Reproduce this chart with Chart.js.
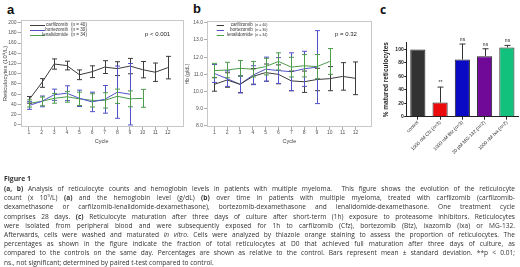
<!DOCTYPE html>
<html>
<head>
<meta charset="utf-8">
<script src="https://cdn.jsdelivr.net/npm/chart.js@4.4.0/dist/chart.umd.min.js"></script>
<style>
  body { margin: 0; width: 520px; height: 267px; background: #fff; position: relative; overflow: hidden; font-family: "Liberation Sans", Arial, sans-serif; }
  canvas { position: absolute; top: 0; }
  .plabel { position: absolute; font-weight: bold; color: #111; font-size: 13px; line-height: 13px; }
  #cap { position: absolute; left: 4px; top: 174px; width: 511px; font-family: "Open Sans", sans-serif; font-size: 6.6px; color: #333; }
  #cap .fig { font-weight: bold; font-size: 6.8px; height: 10px; line-height: 10px; }
  #cap .ln { height: 9.2px; line-height: 9.2px; text-align: justify; text-align-last: justify; overflow: hidden; }
  #cap .ln.last { text-align: left; text-align-last: left; }
</style>
</head>
<body>
<div class="plabel" style="left:7px;top:2.5px">a</div>
<div class="plabel" style="left:193px;top:2px">b</div>
<div class="plabel" style="left:380px;top:4px;font-family:'Open Sans',sans-serif;font-size:12px;line-height:12px">c</div>

<canvas id="chartA" width="186" height="150" style="left:0"></canvas>
<canvas id="chartB" width="195" height="150" style="left:180px"></canvas>
<canvas id="chartC" width="144" height="175" style="left:376px"></canvas>

<div id="cap">
  <div class="fig">Figure 1</div>
  <div class="ln"><b>(a, b)</b> Analysis of reticulocyte counts and hemoglobin levels in patients with multiple myeloma.&nbsp; This figure shows the evolution of the reticulocyte</div>
  <div class="ln">count (x 10<sup style="font-size:4px;line-height:0">9</sup>/L) <b>(a)</b> and the hemoglobin level (g/dL) <b>(b)</b> over time in patients with multiple myeloma, treated with carfilzomib (carfilzomib-</div>
  <div class="ln">dexamethasone or carfilzomib-lenalidomide-dexamethasone), bortezomib-dexamethasone and lenalidomide-dexamethasone. One treatment cycle</div>
  <div class="ln">comprises 28 days. <b>(c)</b> Reticulocyte maturation after three days of culture after short-term (1h) exposure to proteasome inhibitors. Reticulocytes</div>
  <div class="ln">were isolated from peripheral blood and were subsequently exposed for 1h to carfilzomib (Cfz), bortezomib (Btz), ixazomib (Ixa) or MG-132.</div>
  <div class="ln">Afterwards, cells were washed and maturated <i>in vitro</i>. Cells were analyzed by thiazole orange staining to assess the proportion of reticulocytes. The</div>
  <div class="ln">percentages as shown in the figure indicate the fraction of total reticulocytes at D0 that achieved full maturation after three days of culture, as</div>
  <div class="ln">compared to the controls on the same day. Percentages are shown as relative to the control. Bars represent mean ± standard deviation. **p &lt; 0.01;</div>
  <div class="ln last">ns., not significant; determined by paired t-test compared to control.</div>
</div>

<script>
// panel a: reticulocytes (10^9/L) per cycle, mean and SD
const cycles = [1, 2, 3, 4, 5, 6, 7, 8, 9, 10, 11, 12];
const carfRetMean = [49, 82, 119, 116, 98, 104, 113, 110, 115, 108, 103, 112];
const carfRetSd   = [6.5, 8.5, 10, 8.5, 9.5, 11.5, 12.5, 13.5, 15, 16, 18, 22];
const bortRetMean = [38, 46, 59, 62, 52, 45, 50, 64, 60];
const bortRetSd   = [7.5, 10.5, 11, 14.5, 16, 19, 27, 51, 60];
const lenaRetMean = [42, 46, 52, 55, 51, 48, 48, 56, 51, 52];
const lenaRetSd   = [7, 8.5, 9.5, 10.5, 13, 13, 15, 14, 15.5, 17.5];
const retTicks = [0, 20, 40, 60, 80, 100, 120, 140, 160, 180, 200];

// panel b: hemoglobin (g/dL)
const carfHbMean = [10.42, 10.67, 10.42, 10.88, 11.1, 11.0, 10.62, 10.57, 10.7, 10.75, 10.88, 10.77];
const carfHbSd   = [0.4, 0.42, 0.48, 0.45, 0.5, 0.55, 0.57, 0.62, 0.65, 0.7, 0.8, 0.95];
const bortHbMean = [11.05, 10.75, 10.42, 10.95, 11.3, 11.22, 11.15, 11.32, 11.42];
const bortHbSd   = [0.52, 0.45, 0.5, 0.55, 0.7, 0.75, 1.1, 1.02, 2.12];
const lenaHbMean = [11.22, 11.25, 11.35, 11.3, 11.45, 11.75, 11.42, 11.5, 11.45, 11.75];
const lenaHbSd   = [0.42, 0.45, 0.45, 0.45, 0.48, 0.5, 0.57, 0.65, 0.7, 0.75];
const hbTicks = [8.0, 8.5, 9.0, 9.5, 10.0, 10.5, 11.0, 11.5, 12.0, 12.5, 13.0, 13.5, 14.0];

const groupNames = ['carfilzomib', 'bortezomib', 'lenalidomide'];
const groupN = ['(n = 40)', '(n = 30)', '(n = 34)'];

// panel c: matured reticulocytes (% of control)
const matCategories = ['control', '1000 nM Cfz (n=3)', '1000 nM Btz (n=3)', '20 µM MG-132 (n=2)', '1000 nM Ixa (n=2)'];
const matMean = [100, 21, 85, 90, 103];
const matSd = [0, 23, 23, 11, 3];
const matSig = ['', '**', 'ns', 'ns', 'ns'];
const matTicks = [0, 20, 40, 60, 80, 100];

Chart.defaults.font.family = '"Liberation Sans", Arial, sans-serif';
Chart.defaults.color = '#444';

const COL_CARF = '#3c3c3c', COL_BORT = '#5252c8', COL_LENA = '#4c9c4c';

const toXY = (arr) => arr.map((v, i) => ({ x: cycles[i], y: v }));

// grey frame round the plot area
const framePlugin = {
  id: 'frame',
  beforeDatasetsDraw(chart, args, opts) {
    const a = chart.chartArea, ctx = chart.ctx;
    ctx.save();
    ctx.strokeStyle = opts.color || '#c4c4c4';
    ctx.lineWidth = 1;
    ctx.strokeRect(Math.round(a.left) + 0.5, Math.round(a.top) + 0.5,
                   Math.round(a.right - a.left) - 1, Math.round(a.bottom - a.top) - 1);
    ctx.restore();
  }
};

// mean +/- sd whiskers
const errorBars = {
  id: 'errorBars',
  afterDatasetsDraw(chart, args, opts) {
    const ctx = chart.ctx, ys = chart.scales.y;
    chart.data.datasets.forEach((ds, di) => {
      const meta = chart.getDatasetMeta(di);
      ctx.save();
      ctx.strokeStyle = opts.color || ds.borderColor;
      ctx.lineWidth = 1;
      meta.data.forEach((el, i) => {
        const d = ds.data[i];
        const m = typeof d === 'object' ? d.y : d;
        const s = ds.sd[i];
        if (!s) return;
        const x = Math.round(el.x) + 0.5;
        const top = ys.getPixelForValue(m + s);
        const bot = opts.upOnly ? ys.getPixelForValue(m) : ys.getPixelForValue(m - s);
        const w = opts.cap / 2;
        ctx.beginPath();
        ctx.moveTo(x, top); ctx.lineTo(x, bot);
        ctx.moveTo(x - w, top); ctx.lineTo(x + w, top);
        if (!opts.upOnly) { ctx.moveTo(x - w, bot); ctx.lineTo(x + w, bot); }
        ctx.stroke();
        if (opts.labels && opts.labels[i]) {
          ctx.fillStyle = '#222';
          ctx.font = '5px "Liberation Sans", Arial, sans-serif';
          ctx.textAlign = 'center';
          ctx.textBaseline = 'bottom';
          ctx.fillText(opts.labels[i], x, top - 2);
        }
      });
      ctx.restore();
    });
  }
};

// legend and p value drawn inside the frame
const innerText = {
  id: 'innerText',
  afterDraw(chart, args, o) {
    const ctx = chart.ctx, a = chart.chartArea;
    ctx.save();
    chart.data.datasets.forEach((ds, i) => {
      const y = a.top + o.rows[i];
      ctx.strokeStyle = ds.borderColor; ctx.lineWidth = 1;
      ctx.beginPath();
      ctx.moveTo(a.left + o.lineX[0], Math.round(y) + 0.5);
      ctx.lineTo(a.left + o.lineX[1], Math.round(y) + 0.5);
      ctx.stroke();
      ctx.fillStyle = '#333';
      ctx.textBaseline = 'middle';
      ctx.font = o.font + 'px "Liberation Sans", Arial, sans-serif';
      ctx.textAlign = 'right';
      ctx.fillText(groupNames[i], a.left + o.nameRight, y);
      ctx.font = o.nFont + 'px "Liberation Sans", Arial, sans-serif';
      ctx.textAlign = 'left';
      ctx.fillText(groupN[i], a.left + o.nLeft, y);
    });
    ctx.fillStyle = '#222';
    ctx.font = '6px "Liberation Sans", Arial, sans-serif';
    ctx.textAlign = 'left';
    ctx.textBaseline = 'middle';
    ctx.fillText(o.p, o.pX - chart.canvas.offsetLeft, o.pY);
    ctx.restore();
  }
};

function lineSet(label, means, sds, color) {
  return {
    label, data: toXY(means), sd: sds,
    borderColor: color, borderWidth: 1, pointRadius: 0, tension: 0, fill: false
  };
}

function lineOptions(cfg) {
  return {
    responsive: false, animation: false,
    layout: { padding: { top: cfg.top, right: cfg.right, left: 0, bottom: 0 } },
    plugins: {
      legend: { display: false }, tooltip: { enabled: false },
      frame: { color: '#c8c8c8' },
      errorBars: { cap: 5 },
      innerText: cfg.inner
    },
    scales: {
      x: {
        type: 'linear', min: cfg.xMin, max: cfg.xMax,
        afterBuildTicks: (s) => { s.ticks = cycles.map(v => ({ value: v })); },
        grid: { display: true, drawOnChartArea: false, tickLength: 3, color: '#aaa' },
        border: { display: false },
        ticks: { font: { size: 5 }, color: '#555', padding: 0 },
        title: { display: true, text: 'Cycle', font: { size: 5.5 }, color: '#444', padding: { top: 0, bottom: 5 } },
        afterFit: (s) => { s.height = 23; }
      },
      y: {
        min: cfg.yMin, max: cfg.yMax,
        afterBuildTicks: (s) => { s.ticks = cfg.ticks.map(v => ({ value: v })); },
        grid: { display: true, drawOnChartArea: false, tickLength: 3, color: '#aaa' },
        border: { display: false },
        ticks: { font: { size: 5 }, color: '#555', padding: 1, callback: cfg.fmt },
        title: { display: true, text: cfg.yTitle, font: { size: cfg.yTitleSize }, color: '#444', padding: { top: cfg.yTitlePad, bottom: 0 } },
        afterFit: (s) => { s.width = cfg.yWidth; }
      }
    }
  };
}

new Chart(document.getElementById('chartA'), {
  type: 'line',
  data: { datasets: [
    lineSet('carfilzomib', carfRetMean, carfRetSd, COL_CARF),
    lineSet('bortezomib', bortRetMean, bortRetSd, COL_BORT),
    lineSet('lenalidomide', lenaRetMean, lenaRetSd, COL_LENA)
  ] },
  options: lineOptions({
    top: 20, right: 3, xMin: 0.33, xMax: 13.2, yMin: -4, yMax: 205,
    ticks: retTicks, fmt: (v) => v, yTitle: 'Reticulocytes (10⁹/L)', yTitleSize: 6, yTitlePad: 1.5, yWidth: 20.5,
    inner: { rows: [5, 10, 15], lineX: [9.5, 24.5], nameRight: 47.5, nLeft: 50.5, font: 4.6, nFont: 4.6, p: 'p < 0.001', pX: 145, pY: 34 }
  }),
  plugins: [framePlugin, errorBars, innerText]
});

new Chart(document.getElementById('chartB'), {
  type: 'line',
  data: { datasets: [
    lineSet('carfilzomib', carfHbMean, carfHbSd, COL_CARF),
    lineSet('bortezomib', bortHbMean, bortHbSd, COL_BORT),
    lineSet('lenalidomide', lenaHbMean, lenaHbSd, COL_LENA)
  ] },
  options: lineOptions({
    top: 21, right: 3, xMin: 0.43, xMax: 13.29, yMin: 7.94, yMax: 14.1,
    ticks: hbTicks, fmt: (v) => v.toFixed(1), yTitle: 'Hb (g/dL)', yTitleSize: 5, yTitlePad: 4.5, yWidth: 27,
    inner: { rows: [3.5, 8.7, 14], lineX: [9.7, 17], nameRight: 45.7, nLeft: 48, font: 4.6, nFont: 3.6, p: 'p = 0.32', pX: 335, pY: 34 }
  }),
  plugins: [framePlugin, errorBars, innerText]
});

new Chart(document.getElementById('chartC'), {
  type: 'bar',
  data: {
    labels: matCategories,
    datasets: [{
      data: matMean, sd: matSd,
      backgroundColor: ['#333333', '#ec0a0a', '#0a0ac4', '#700898', '#12c27c'],
      borderColor: '#222', borderWidth: 1,
      barPercentage: 0.68, categoryPercentage: 1
    }]
  },
  options: {
    responsive: false, animation: false,
    layout: { padding: { top: 42.7, right: 2, left: 0, bottom: 0 } },
    plugins: {
      legend: { display: false }, tooltip: { enabled: false },
      errorBars: { cap: 6, upOnly: true, color: '#333', labels: matSig }
    },
    scales: {
      x: {
        grid: { display: true, drawOnChartArea: false, offset: false, tickLength: 3, color: '#222' },
        border: { display: true, color: '#222', width: 1 },
        ticks: { minRotation: 45, maxRotation: 45, autoSkip: false, font: { size: 4.8 }, color: '#333', padding: 0 },
        afterFit: (s) => { s.height = 58.3; }
      },
      y: {
        min: 0, max: 110,
        afterBuildTicks: (s) => { s.ticks = matTicks.map(v => ({ value: v })); },
        grid: { display: true, drawOnChartArea: false, tickLength: 2.5, color: '#222' },
        border: { display: true, color: '#222', width: 1 },
        ticks: { font: { size: 5, weight: 'bold' }, color: '#222', padding: 0.5 },
        title: { display: true, text: '% matured reticulocytes', font: { size: 6.5, weight: 'bold' }, color: '#222', padding: { top: 6.8, bottom: 0 } },
        afterFit: (s) => { s.width = 30.7; }
      }
    }
  },
  plugins: [errorBars]
});
</script>
</body>
</html>
